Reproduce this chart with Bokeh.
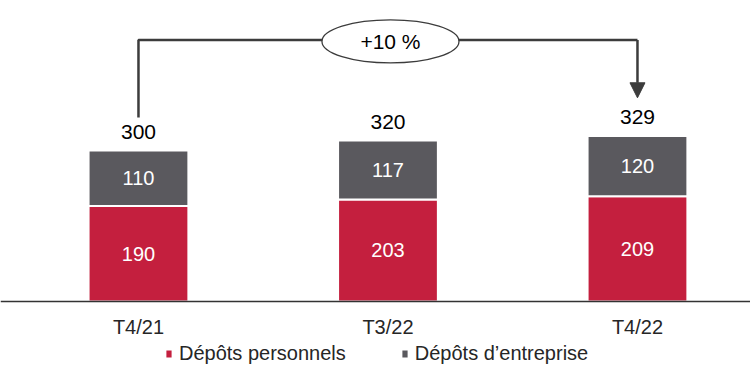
from bokeh.plotting import figure
from bokeh.models import (Range1d, FixedTicker, Legend, LegendItem, Arrow, NormalHead,
                          ColumnDataSource, LinearAxis)
from bokeh.core.properties import value
from bokeh.embed import file_html
from bokeh.resources import INLINE

# ---- data ----
categories = ["T4/21", "T3/22", "T4/22"]
personnels = [190, 203, 209]
entreprise = [110, 117, 120]
totals = [300, 320, 329]
growth_label = "+10 %"
series_names = ["Dépôts personnels", "Dépôts d\u2019entreprise"]

RED = "#C41F3E"
GRAY = "#5A595E"
DARK = "#3C3C3C"
FONT = "Liberation Sans"

xs = list(range(len(categories)))
src = ColumnDataSource(dict(
    x=xs,
    personnels=personnels,
    entreprise=entreprise,
    totals=totals,
    p_mid=[v / 2 for v in personnels],
    e_mid=[p + e / 2 for p, e in zip(personnels, entreprise)],
    p_lbl=[str(v) for v in personnels],
    e_lbl=[str(v) for v in entreprise],
    t_lbl=[str(v) for v in totals],
))

W, H = 750, 368
p = figure(width=W, height=H, output_backend="svg", toolbar_location=None,
           x_range=Range1d(-0.553, 2.453), y_range=Range1d(-133.2, 598.4),
           x_axis_location=None, y_axis_location=None, min_border=0)
p.outline_line_color = None
p.xgrid.visible = False
p.ygrid.visible = False
p.background_fill_color = "white"
p.border_fill_color = "white"

rs = p.vbar_stack(["personnels", "entreprise"], x="x", width=0.40, source=src,
                  color=[RED, GRAY], line_color="white", line_width=2)

# in-bar labels
p.text(x="x", y="p_mid", text="p_lbl", source=src, text_color="white",
       text_font=value(FONT), text_font_size="20px", text_align="center",
       text_baseline="middle")
p.text(x="x", y="e_mid", text="e_lbl", source=src, text_color="white",
       text_font=value(FONT), text_font_size="20px", text_align="center",
       text_baseline="middle")
# totals
p.text(x="x", y="totals", text="t_lbl", source=src, text_color="black",
       text_font=value(FONT), text_font_size="21px", text_align="center",
       text_baseline="middle", y_offset=-19)

# growth arrow (annotation)
y_top = 520
p.line(x=[0, 0, 2], y=[366, y_top, y_top], line_color=DARK, line_width=2.5)
p.add_layout(Arrow(end=NormalHead(size=15, fill_color=DARK, line_color=DARK),
                   x_start=2, y_start=y_top, x_end=2, y_end=405,
                   line_color=DARK, line_width=2.5))
p.ellipse(x=[1.01], y=[y_top - 3], width=137, height=43, width_units="screen",
          height_units="screen", fill_color="white", line_color=DARK, line_width=1.3)
p.text(x=[1.01], y=[y_top - 3], text=[growth_label], text_color="black",
       text_font=value(FONT), text_font_size="21px", text_align="center",
       text_baseline="middle")

# x axis fixed at y = 0 inside the frame
ax = LinearAxis(ticker=FixedTicker(ticks=xs), fixed_location=0,
                major_label_overrides={i: c for i, c in zip(xs, categories)})
ax.major_tick_line_color = None
ax.minor_tick_line_color = None
ax.axis_line_color = "#333333"
ax.axis_line_width = 1.5
ax.major_label_standoff = 9
ax.major_label_text_font = FONT
ax.major_label_text_font_size = "20px"
ax.major_label_text_color = "#262626"
p.add_layout(ax, "below")

legend = Legend(items=[LegendItem(label=series_names[0], renderers=[rs[0]]),
                       LegendItem(label=series_names[1], renderers=[rs[1]])],
                orientation="horizontal", location=(164, 3),
                glyph_width=9, glyph_height=11, label_standoff=6, spacing=54,
                padding=0, margin=0, border_line_color=None,
                background_fill_alpha=0,
                label_text_font=FONT, label_text_font_size="20px",
                label_text_color="#262626", label_height=20)
p.add_layout(legend)

open("out.html", "w").write(file_html(p, INLINE))
